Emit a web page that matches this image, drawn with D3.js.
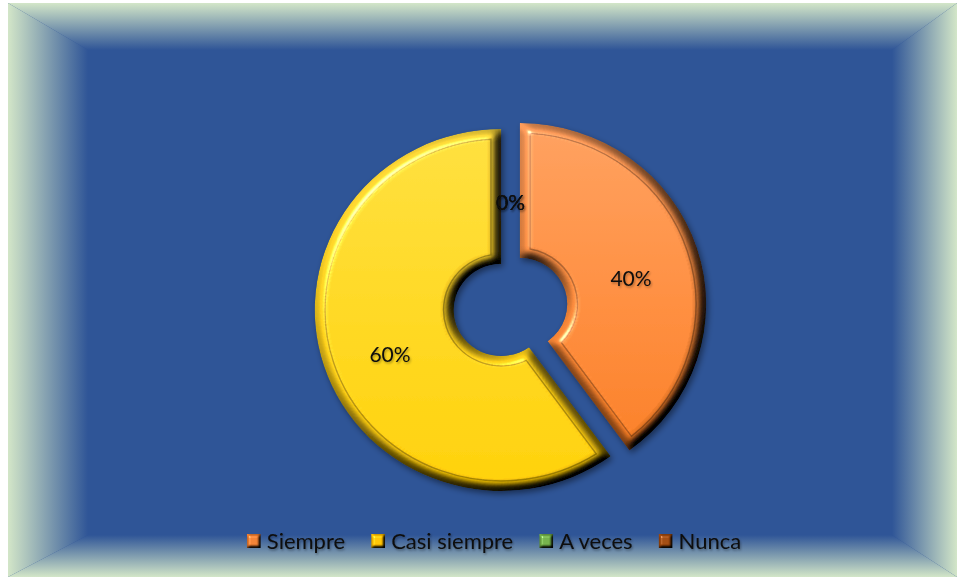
<!DOCTYPE html>
<html>
<head>
<meta charset="utf-8">
<script src="https://cdn.jsdelivr.net/npm/d3@7/dist/d3.min.js"></script>
<style>
  html, body { margin: 0; padding: 0; background: #ffffff; }
  svg { display: block; }
  text { font-family: Lato, "Open Sans", "Liberation Sans", sans-serif; }
</style>
</head>
<body>
<svg id="chart" width="959" height="577"></svg>
<script>
// Survey answers and their shares
const categories = ["Siempre", "Casi siempre", "A veces", "Nunca"];
const values = [40, 60, 0, 0];
// Legend / slice base colours
const legendColors = ["#ED7D31", "#FFC000", "#70AD47", "#9E480E"];
// Slice face gradients (top, bottom)
const faceTop = ["#fd9b5a", "#ffda3a", "#8cc063", "#b8602a"];
const faceBottom = ["#f47a22", "#ffcb05", "#62a03c", "#8f4010"];

const W = 959, H = 577;
const svg = d3.select("#chart");
const defs = svg.append("defs");

// ---------- framed background ----------
const outer = { x0: 8, y0: 3, x1: 957, y1: 577 };
const inner = { x0: 88, y0: 50, x1: 892, y1: 535 };
const edgeColor = "#d3e6c8", plateColor = "#2f5597";

svg.append("rect")
  .attr("x", outer.x0).attr("y", outer.y0)
  .attr("width", outer.x1 - outer.x0).attr("height", outer.y1 - outer.y0)
  .attr("fill", plateColor);

const bands = [
  { id: "bTop", pts: [[outer.x0, outer.y0], [outer.x1, outer.y0], [inner.x1, inner.y0], [inner.x0, inner.y0]], g: [0, 0, 0, 1] },
  { id: "bBot", pts: [[outer.x0, outer.y1], [outer.x1, outer.y1], [inner.x1, inner.y1], [inner.x0, inner.y1]], g: [0, 1, 0, 0] },
  { id: "bLeft", pts: [[outer.x0, outer.y0], [inner.x0, inner.y0], [inner.x0, inner.y1], [outer.x0, outer.y1]], g: [0, 0, 1, 0] },
  { id: "bRight", pts: [[outer.x1, outer.y0], [inner.x1, inner.y0], [inner.x1, inner.y1], [outer.x1, outer.y1]], g: [1, 0, 0, 0] }
];
bands.forEach(b => {
  const lg = defs.append("linearGradient").attr("id", b.id)
    .attr("x1", b.g[0]).attr("y1", b.g[1]).attr("x2", b.g[2]).attr("y2", b.g[3]);
  lg.append("stop").attr("offset", 0).attr("stop-color", edgeColor);
  lg.append("stop").attr("offset", 1).attr("stop-color", plateColor);
  svg.append("polygon")
    .attr("points", b.pts.map(p => p.join(",")).join(" "))
    .attr("fill", `url(#${b.id})`);
});

// ---------- filters ----------
function bevelFilter(id, blur, scale) {
  const f = defs.append("filter").attr("id", id)
    .attr("x", "-10%").attr("y", "-10%").attr("width", "120%").attr("height", "120%")
    .attr("color-interpolation-filters", "sRGB");
  f.append("feGaussianBlur").attr("in", "SourceAlpha").attr("stdDeviation", blur).attr("result", "b");
  f.append("feDiffuseLighting").attr("in", "b").attr("surfaceScale", scale)
    .attr("diffuseConstant", 1.155).attr("lighting-color", "#ffffff").attr("result", "diff")
    .append("feDistantLight").attr("azimuth", 225).attr("elevation", 60);
  f.append("feSpecularLighting").attr("in", "b").attr("surfaceScale", scale)
    .attr("specularConstant", 0.55).attr("specularExponent", 30)
    .attr("lighting-color", "#ffffff").attr("result", "spec")
    .append("feDistantLight").attr("azimuth", 225).attr("elevation", 40);
  f.append("feComposite").attr("in", "SourceGraphic").attr("in2", "diff")
    .attr("operator", "arithmetic").attr("k1", 1).attr("result", "lit");
  f.append("feComposite").attr("in", "spec").attr("in2", "SourceAlpha")
    .attr("operator", "in").attr("result", "specIn");
  f.append("feComposite").attr("in", "lit").attr("in2", "specIn")
    .attr("operator", "arithmetic").attr("k2", 1).attr("k3", 1).attr("result", "out");
  f.append("feComposite").attr("in", "out").attr("in2", "SourceAlpha").attr("operator", "in");
}
bevelFilter("bevel", 5, 12);
bevelFilter("bevelSmall", 1.8, 4);

const shadow = defs.append("filter").attr("id", "shadow")
  .attr("x", "-10%").attr("y", "-10%").attr("width", "125%").attr("height", "125%");
shadow.append("feDropShadow").attr("dx", 2).attr("dy", 3).attr("stdDeviation", 3)
  .attr("flood-color", "#000").attr("flood-opacity", 0.45);

const textShadow = defs.append("filter").attr("id", "textShadow")
  .attr("x", "-20%").attr("y", "-30%").attr("width", "140%").attr("height", "160%");
textShadow.append("feDropShadow").attr("dx", 1).attr("dy", 1.5).attr("stdDeviation", 1.2)
  .attr("flood-color", "#000").attr("flood-opacity", 0.35);

const groove = defs.append("filter").attr("id", "groove");
groove.append("feGaussianBlur").attr("stdDeviation", 0.7);

// ---------- doughnut ----------
const cx = 510.5, cy = 307, sx = 1.03;
const R = 181, r = 46, explode = 9.5, rim = 10;
const labelDrop = 9;

const pie = d3.pie().sort(null).startAngle(0).endAngle(2 * Math.PI).value(d => d);
const arcs = pie(values);
const total = d3.sum(values);

const arcOuter = d3.arc().innerRadius(r).outerRadius(R);
const arcFace = d3.arc().innerRadius(r + rim).outerRadius(R - rim)
  .padRadius(R).padAngle(2 * rim / R);
const arcLabel = d3.arc().innerRadius((R + r) / 2).outerRadius((R + r) / 2);

function offset(d) {
  if (d.value === 0) return [0, 0];
  const a = (d.startAngle + d.endAngle) / 2;
  return [explode * Math.sin(a), -explode * Math.cos(a)];
}

arcs.forEach((d, i) => {
  const lg = defs.append("linearGradient").attr("id", "face" + i)
    .attr("x1", 0).attr("y1", 0).attr("x2", 0).attr("y2", 1);
  lg.append("stop").attr("offset", 0).attr("stop-color", faceTop[i]);
  lg.append("stop").attr("offset", 1).attr("stop-color", faceBottom[i]);
});

const chart = svg.append("g").attr("transform", `translate(${cx},${cy}) scale(${sx},1)`);

const slices = chart.selectAll("g.slice")
  .data(arcs.filter(d => d.value > 0))
  .join("g")
  .attr("class", "slice")
  .attr("transform", d => `translate(${offset(d)})`)
  .attr("filter", "url(#shadow)");

const body = slices.append("g").attr("filter", "url(#bevel)");
body.append("path")
  .attr("d", arcOuter)
  .attr("fill", d => `url(#face${d.index})`);
body.append("path")
  .attr("d", arcFace)
  .attr("fill", "none")
  .attr("stroke", "#000")
  .attr("stroke-opacity", 0.3)
  .attr("stroke-width", 1.4)
  .attr("filter", "url(#groove)");

// ---------- data labels ----------
const fmt = d3.format(".0%");
svg.append("g").selectAll("text.lbl")
  .data(arcs)
  .join("text")
  .attr("class", "lbl")
  .attr("transform", d => {
    const c = arcLabel.centroid(d), o = offset(d);
    return `translate(${cx + (c[0] + o[0]) * sx},${cy + c[1] + o[1] + labelDrop})`;
  })
  .attr("text-anchor", "middle")
  .attr("dy", "0.36em")
  .attr("font-size", 21)
  .attr("fill", "#0d0d0d")
  .attr("filter", "url(#textShadow)")
  .text(d => fmt(d.value / total));

// ---------- legend ----------
const legend = svg.append("g");
const box = 14, gapText = 6, gapItem = 26, legendY = 541, legendCenter = 494;
const items = legend.selectAll("g.item").data(categories).join("g").attr("class", "item");
items.append("rect")
  .attr("width", box).attr("height", box)
  .attr("y", -box / 2)
  .attr("fill", (d, i) => legendColors[i])
  .attr("filter", "url(#bevelSmall)");
items.append("text")
  .attr("x", box + gapText)
  .attr("dy", "0.35em")
  .attr("font-size", 22)
  .attr("fill", "#0d0d0d")
  .attr("filter", "url(#textShadow)")
  .text(d => d);

let widths = [];
items.each(function () {
  widths.push(box + gapText + d3.select(this).select("text").node().getComputedTextLength());
});
const totalW = d3.sum(widths) + gapItem * (widths.length - 1);
let xPos = legendCenter - totalW / 2;
items.each(function (d, i) {
  d3.select(this).attr("transform", `translate(${xPos},${legendY})`);
  xPos += widths[i] + gapItem;
});
</script>
</body>
</html>
